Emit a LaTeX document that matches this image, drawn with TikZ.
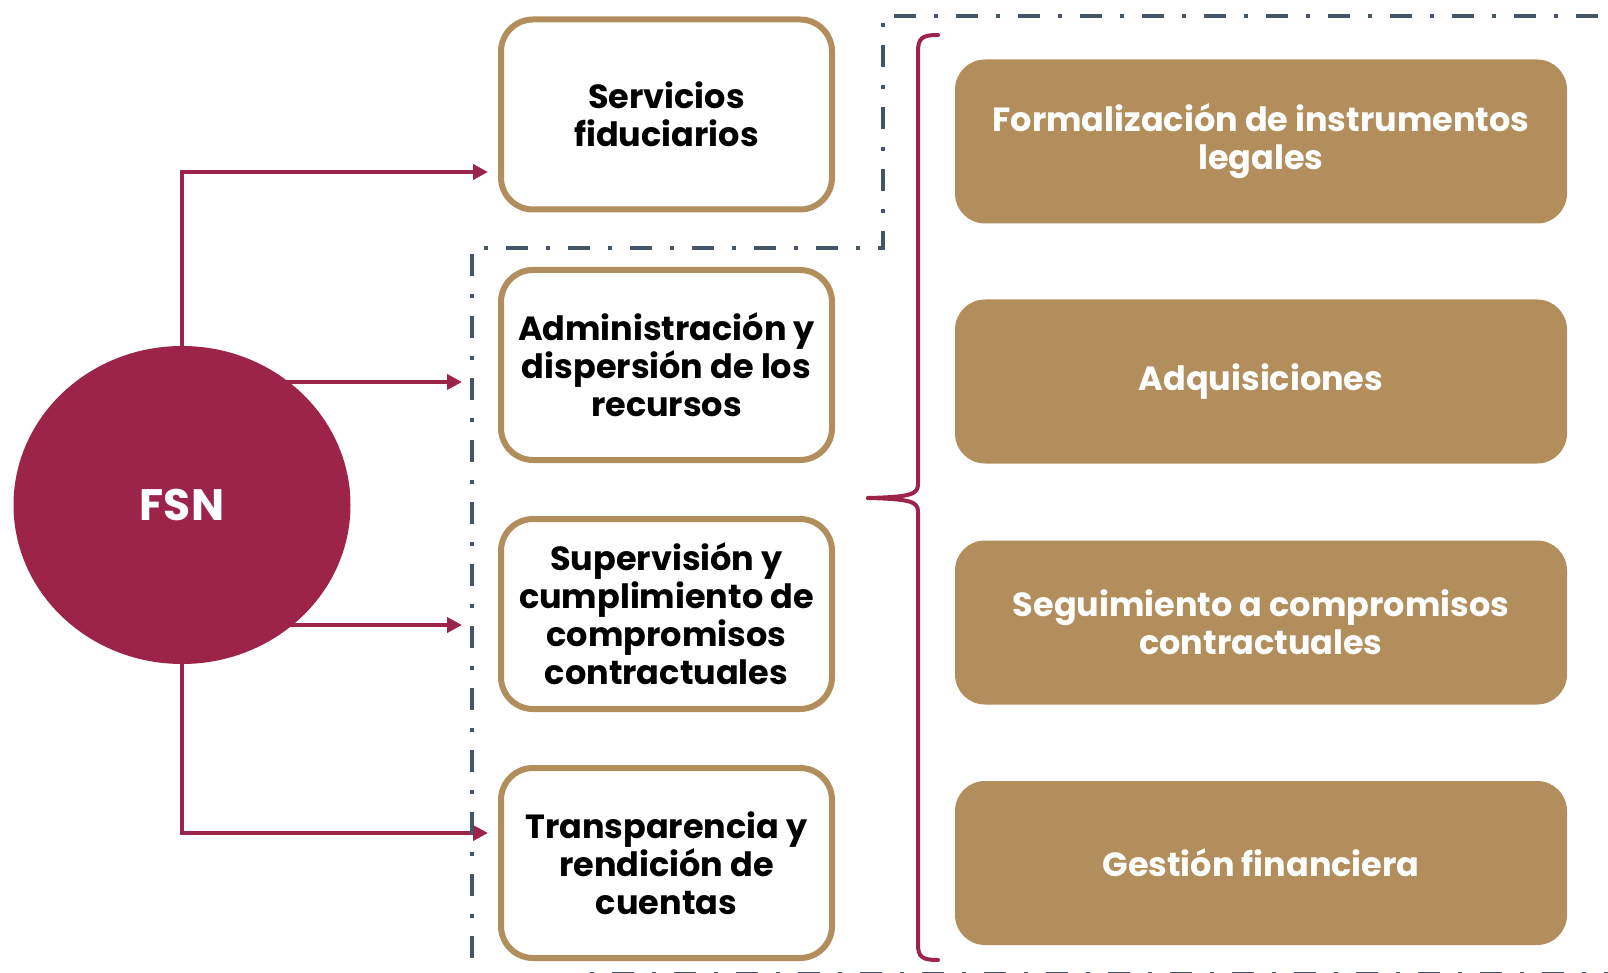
\documentclass[tikz,border=0pt]{standalone}
\usepackage{fontspec}
\setmainfont{Poppins}[BoldFont={* Bold}]
\usetikzlibrary{shapes.geometric,arrows.meta,backgrounds}
\definecolor{maroon}{HTML}{9D2449}
\definecolor{gold}{HTML}{B38E5D}
\definecolor{slate}{HTML}{44546A}
\begin{document}
\begin{tikzpicture}[x=1pt,y=-1pt,
  whitebox/.style={draw=gold, line width=6pt, fill=white, rounded corners=32pt,
    minimum width=331pt, minimum height=190pt, align=center, inner sep=0pt,
    font=\bfseries\fontsize{33.5}{38}\selectfont, text=black},
  goldbox/.style={fill=gold, rounded corners=30pt,
    minimum width=612pt, minimum height=164pt, align=center, inner sep=0pt,
    font=\bfseries\fontsize{33.5}{38}\selectfont, text=white},
  conn/.style={draw=maroon, line width=4pt, -{Triangle[length=15pt,width=15pt]}},
  dashdot/.style={draw=slate, line width=4.5pt, dash pattern=on 4pt off 18pt on 22pt off 18pt},
  bracestyle/.style={draw=maroon, line width=4pt, line cap=round, line join=round}]
\useasboundingbox (0,0) rectangle (1608,973);

% dash-dot frame
\draw[dashdot] (1620,16) -- (883,16) -- (883,248) -- (472,248) -- (472,990);
\draw[dashdot] (590,974) -- (1620,974);

% FSN circle
\node[ellipse, fill=maroon, minimum width=337pt, minimum height=318pt, inner sep=0pt,
  text=white, font=\bfseries\fontsize{44}{50}\selectfont] (fsn) at (182,505) {FSN};

% white boxes
\node[whitebox] (svc) at (666.5,114.5) {Servicios\\fiduciarios};
\node[whitebox] (adm) at (666.5,365) {Administración y\\dispersión de los\\recursos};
\node[whitebox] (sup) at (666.5,614) {Supervisión y\\cumplimiento de\\compromisos\\contractuales};
\node[whitebox] (tra) at (666.5,863) {Transparencia y\\rendición de\\cuentas};

% gold boxes
\node[goldbox] (g1) at (1261,141.5) {Formalización de instrumentos\\legales};
\node[goldbox] (g2) at (1261,381.5) {Adquisiciones};
\node[goldbox] (g3) at (1261,622.5) {Seguimiento a compromisos\\contractuales};
\node[goldbox] (g4) at (1261,863) {Gestión financiera};

% arrow end points
\coordinate (t1) at (488,172);
\coordinate (t2) at (462,382);
\coordinate (t3) at (462,625);
\coordinate (t4) at (488,833);

\begin{scope}[on background layer]
\fill[white] (0,0) rectangle (1608,973);
\draw[conn] (fsn.north) |- (t1);
\draw[conn] (fsn.center |- t2) -- (t2);
\draw[conn] (fsn.center |- t3) -- (t3);
\draw[conn] (fsn.south) |- (t4);
\end{scope}

% brace
\coordinate (bt) at (938,35);
\coordinate (bb) at (938,960);
\coordinate (bm) at (868,498);
\draw[bracestyle] (bt) .. controls (922,35) and (918,38) .. (918,52)
  -- (918,484) .. controls (918,494) and (912,497) .. (bm);
\draw[bracestyle] (bm) .. controls (912,499) and (918,502) .. (918,512)
  -- (918,944) .. controls (918,957) and (922,960) .. (bb);
\end{tikzpicture}
\end{document}
